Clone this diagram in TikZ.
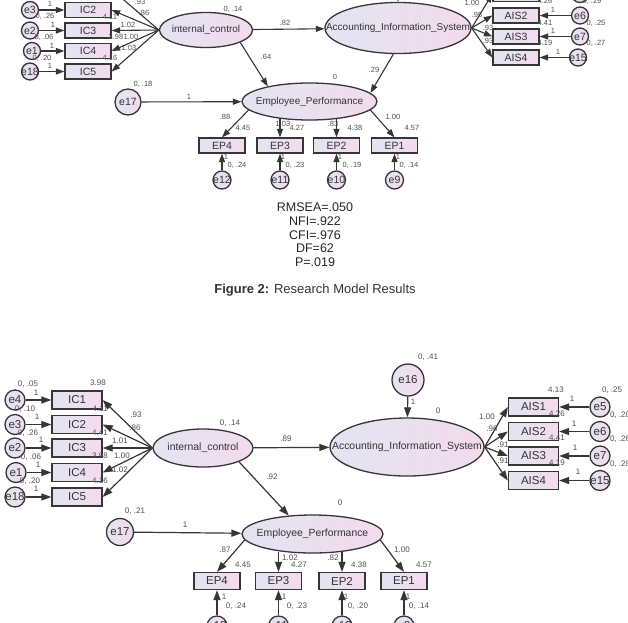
\documentclass[tikz,border=0pt]{standalone}
\usepackage{fontspec}
\setmainfont{Liberation Sans}
\usetikzlibrary{arrows.meta,shapes.geometric}
\definecolor{lineC}{HTML}{363636}
\definecolor{txtC}{HTML}{333333}
\definecolor{lblC}{HTML}{505050}
\definecolor{fillL}{HTML}{E2E4F2}
\definecolor{fillR}{HTML}{F3DBED}
\newcounter{lbn}
\newcommand{\lab}[2]{\stepcounter{lbn}\node[lbl] (lb\arabic{lbn}) at (#1) {#2};}
\newcommand{\labT}[2]{\stepcounter{lbn}\node[lblT] (lb\arabic{lbn}) at (#1) {#2};}
\tikzset{
 shp/.style={draw=lineC, line width=1.3pt, left color=fillL, right color=fillR, text=txtC, inner sep=0pt},
 obsB/.style={shp, rectangle, minimum width=50pt, minimum height=18pt, font=\fontsize{11.5}{12}\selectfont},
 obsT/.style={shp, rectangle, minimum width=46pt, minimum height=15pt, font=\fontsize{10.5}{11}\selectfont},
 lat/.style={shp, ellipse},
 err/.style={shp, circle},
 ntxt/.style={text=txtC, inner sep=0pt},
 arrB/.style={draw=lineC, line width=1.2pt, -{Triangle[length=10pt,width=7pt]}},
 arrT/.style={draw=lineC, line width=1.1pt, -{Triangle[length=8.5pt,width=6pt]}},
 lbl/.style={text=lblC, font=\fontsize{8}{9}\selectfont, inner sep=0pt},
 lblT/.style={text=lblC, font=\fontsize{7.5}{8.5}\selectfont, inner sep=0pt},
 stat/.style={text=black!85, font=\fontsize{12.5}{14}\selectfont, inner sep=0pt},
}
\begin{document}
\begin{tikzpicture}[x=1pt,y=-1pt]
\useasboundingbox (0,0) rectangle (628,622);
\fill[white] (0,0) rectangle (628,622);
\clip (0,0) rectangle (628,622);

% ================= TOP DIAGRAM =================
\foreach \n/\yy in {1/-10.5,2/10,3/30.5,4/51,5/71.5}
  \node[obsT] (tIC\n) at (88,\yy) {IC\n};
\foreach \n/\xx/\yy in {4/30/-10.5,3/30/10,2/30/30.5,1/32/51,18/30/71.5}{
  \node[err, minimum size=17pt] (te\n) at (\xx,\yy) {};
  \node[ntxt, font=\fontsize{10.5}{11}\selectfont] (te\n t) at (te\n) {e\n};}
\node[lat, minimum width=93pt, minimum height=35pt] (tICL) at (206,30) {};
\node[ntxt, font=\fontsize{10}{11}\selectfont] (tICLt) at (tICL) {internal\_control};
\node[lat, minimum width=146pt, minimum height=51pt] (tAcc) at (398,28) {};
\node[ntxt, font=\fontsize{10}{11}\selectfont] (tAcct) at (tAcc) {Accounting\_Information\_System};
\node[err, minimum size=26pt] (te16) at (398,-35) {};
\foreach \n/\yy in {1/-6,2/15.5,3/36.5,4/57.5}
  \node[obsT] (tAIS\n) at (516,\yy) {AIS\n};
\foreach \n/\xx/\yy in {5/580/-6,6/580/15.5,7/580/36.5,15/578/57.5}{
  \node[err, minimum size=17pt] (te\n) at (\xx,\yy) {};
  \node[ntxt, font=\fontsize{10.5}{11}\selectfont] (te\n t) at (te\n) {e\n};}
\node[lat, minimum width=135pt, minimum height=37pt] (tEP) at (309.5,101.5) {};
\node[ntxt, font=\fontsize{10}{11}\selectfont] (tEPt) at (tEP) {Employee\_Performance};
\node[err, minimum size=26pt] (te17) at (128,102) {};
\node[ntxt, font=\fontsize{10.5}{11}\selectfont] (te17t) at (te17) {e17};
\foreach \n/\xx/\en in {4/222/12,3/280/11,2/336.5/10,1/394.5/9}{
  \node[obsT] (tEP\n) at (\xx,145.5) {EP\n};
  \node[err, minimum size=18pt] (te\en) at (\xx,180) {};
  \node[ntxt, font=\fontsize{10.5}{11}\selectfont] (te\en t) at (te\en) {e\en};
  \draw[arrT] (te\en) -- (tEP\n);}
% top connectors
\draw[arrT] (te4) -- (tIC1);
\draw[arrT] (te3) -- (tIC2);
\draw[arrT] (te2) -- (tIC3);
\draw[arrT] (te1) -- (tIC4);
\draw[arrT] (te18) -- (tIC5);
\foreach \n in {1,...,5} \draw[arrT] (tICL.west) -- (tIC\n.east);
\draw[arrT] (tICL) -- (tAcc);
\draw[arrT] (tICL.340) -- (tEP.160);
\draw[arrT] (tAcc.260) -- (tEP.8);
\draw[arrT] (te16) -- (tAcc);
\foreach \n in {1,...,4} \draw[arrT] (tAcc.east) -- (tAIS\n.west);
\draw[arrT] (te5) -- (tAIS1);
\draw[arrT] (te6) -- (tAIS2);
\draw[arrT] (te7) -- (tAIS3);
\draw[arrT] (te15) -- (tAIS4);
\draw[arrT] (te17) -- (tEP);
\draw[arrT] (tEP.188) -- (tEP4.north);
\draw[arrT] (tEP.210 -| tEP3.north) -- (tEP3.north);
\draw[arrT] (tEP.330 -| tEP2.north) -- (tEP2.north);
\draw[arrT] (tEP.352) -- (tEP1.north);
% top labels
\labT{50,4}{1}\labT{53,25}{1}\labT{52,46}{1}\labT{50,66}{1}
\labT{45,16}{0, .26}\labT{44,37}{0, .06}\labT{42,58}{0, .20}
\labT{110,17}{4.11}\labT{116,37}{3.98}\labT{110,58}{4.16}
\labT{140,2}{.93}\labT{144,13}{.86}\labT{128,25}{1.02}\labT{131,37}{1.00}\labT{129,48}{1.03}
\labT{233,9}{0, .14}\labT{285,23}{.82}\labT{266,57}{.64}\labT{374,70}{.29}\labT{335,77}{0}
\labT{143,84}{0, .18}\labT{189,97}{1}
\labT{225,117}{.88}\labT{283,124}{1.03}\labT{333,124}{.83}\labT{393,117}{1.00}
\labT{243,128}{4.45}\labT{297,128}{4.27}\labT{355,128}{4.38}\labT{412,128}{4.57}
\labT{226,157}{1}\labT{283,157}{1}\labT{340,157}{1}\labT{398,157}{1}
\labT{237,165}{0, .24}\labT{295,165}{0, .23}\labT{352,165}{0, .19}\labT{409,165}{0, .14}
\labT{472,3}{1.00}\labT{477,15}{.95}\labT{488,28}{.93}\labT{488,41}{.93}
\labT{545,1}{4.26}\labT{545,23}{4.41}\labT{545,43}{4.19}
\labT{553,10}{1}\labT{553,31}{1}\labT{558,52}{1}
\labT{592,1}{0, .29}\labT{596,23}{0, .25}\labT{596,43}{0, .27}

% ================= FIT + CAPTION =================
\node[stat] (s1) at (315,207) {RMSEA=.050};
\node[stat] (s2) at (315,221) {NFI=.922};
\node[stat] (s3) at (315,235) {CFI=.976};
\node[stat] (s4) at (315,248) {DF=62};
\node[stat] (s5) at (315,262) {P=.019};
\node[text=black!80, font=\fontsize{13}{15}\selectfont, inner sep=0pt] (cap) at (315,290) {\textbf{Figure 2:} Research Model Results};

% ================= BOTTOM DIAGRAM =================
\foreach \n/\yy in {1/400,2/424.5,3/448,4/472.5,5/497}
  \node[obsB] (bIC\n) at (77,\yy) {IC\n};
\foreach \n/\xx/\yy in {4/15/400,3/15/424.5,2/15/448,1/16/472.5,18/15/497}{
  \node[err, minimum size=20pt] (be\n) at (\xx,\yy) {};
  \node[ntxt, font=\fontsize{11.5}{12}\selectfont] (be\n t) at (be\n) {e\n};}
\node[lat, minimum width=100pt, minimum height=38pt] (bICL) at (203,448) {};
\node[ntxt, font=\fontsize{10.4}{12}\selectfont] (bICLt) at (bICL) {internal\_control};
\node[lat, minimum width=154pt, minimum height=58pt] (bAcc) at (407,447) {};
\node[ntxt, font=\fontsize{10.4}{12}\selectfont] (bAcct) at (bAcc) {Accounting\_Information\_System};
\node[err, minimum size=32pt] (be16) at (408,380) {};
\node[ntxt, font=\fontsize{11.5}{12}\selectfont] (be16t) at (be16) {e16};
\foreach \n/\yy in {1/407,2/431.5,3/456,4/480.5}
  \node[obsB] (bAIS\n) at (533.5,\yy) {AIS\n};
\foreach \n/\yy in {5/407,6/431.5,7/456,15/480.5}{
  \node[err, minimum size=20pt] (be\n) at (600,\yy) {};
  \node[ntxt, font=\fontsize{11.5}{12}\selectfont] (be\n t) at (be\n) {e\n};}
\node[lat, minimum width=141pt, minimum height=38pt] (bEP) at (312.5,534) {};
\node[ntxt, font=\fontsize{10.4}{12}\selectfont] (bEPt) at (bEP) {Employee\_Performance};
\node[err, minimum size=27pt] (be17) at (120,532) {};
\node[ntxt, font=\fontsize{11.5}{12}\selectfont] (be17t) at (be17) {e17};
\foreach \n/\xx/\en in {4/217/12,3/278.5/11,2/342/10,1/404/9}{
  \node[obsB, minimum width=46pt, minimum height=17pt] (bEP\n) at (\xx,581) {EP\n};
  \node[err, minimum size=20pt] (be\en) at (\xx,626) {};
  \node[ntxt, font=\fontsize{11.5}{12}\selectfont] (be\en t) at (be\en) {e\en};
  \draw[arrB] (be\en) -- (bEP\n);}
% bottom connectors
\draw[arrB] (be4) -- (bIC1);
\draw[arrB] (be3) -- (bIC2);
\draw[arrB] (be2) -- (bIC3);
\draw[arrB] (be1) -- (bIC4);
\draw[arrB] (be18) -- (bIC5);
\foreach \n in {1,...,5} \draw[arrB] (bICL.west) -- (bIC\n.east);
\draw[arrB] (bICL) -- (bAcc);
\draw[arrB] (bICL.339) -- (bEP.142);
\draw[arrB] (be16) -- (bAcc);
\foreach \n in {1,...,4} \draw[arrB] (bAcc.east) -- (bAIS\n.west);
\draw[arrB] (be5) -- (bAIS1);
\draw[arrB] (be6) -- (bAIS2);
\draw[arrB] (be7) -- (bAIS3);
\draw[arrB] (be15) -- (bAIS4);
\draw[arrB] (be17) -- (bEP);
\draw[arrB] (bEP.185) -- (bEP4.north);
\draw[arrB] (bEP.211 -| bEP3.north) -- (bEP3.north);
\draw[arrB] (bEP.329 -| bEP2.north) -- (bEP2.north);
\draw[arrB] (bEP.355) -- (bEP1.north);
% bottom labels
\lab{28,384}{0, .05}\lab{36,393}{1}
\lab{25,409}{0, .10}\lab{37,417}{1}
\lab{28,433}{0, .26}\lab{41,440}{1}
\lab{31,457}{0, .06}\lab{38,465}{1}
\lab{30,481}{0, .20}\lab{36,489}{1}
\lab{98,383}{3.98}\lab{100,409}{4.11}\lab{100,433}{4.41}\lab{100,456}{3.98}\lab{100,481}{4.16}
\lab{136,415}{.93}\lab{135,428}{.86}\lab{120,441}{1.01}\lab{122,456}{1.00}\lab{120,470}{1.02}
\lab{230,423}{0, .14}\lab{286,439}{.89}\lab{272,477}{.92}
\lab{428,357}{0, .41}\lab{413,402}{1}\lab{438,411}{0}
\lab{556,390}{4.13}\lab{612,390}{0, .25}
\lab{487,417}{1.00}\lab{492,429}{.96}\lab{503,445}{.91}\lab{503,461}{.91}
\lab{557,414}{4.26}\lab{557,438}{4.41}\lab{557,463}{4.19}
\lab{572,399}{1}\lab{574,424}{1}\lab{575,448}{1}\lab{578,472}{1}
\lab{620,415}{0, .28}\lab{620,439}{0, .26}\lab{620,464}{0, .28}
\lab{135,511}{0, .21}\lab{185,525}{1}\lab{340,503}{0}
\lab{225,550}{.87}\lab{243,565}{4.45}\lab{290,558}{1.02}\lab{299,565}{4.27}
\lab{333,558}{.82}\lab{359,565}{4.38}\lab{402,550}{1.00}\lab{424,565}{4.57}
\lab{224,597}{1}\lab{236,606}{0, .24}\lab{284,597}{1}\lab{297,606}{0, .23}
\lab{346,597}{1}\lab{358,606}{0, .20}\lab{408,597}{1}\lab{419,606}{0, .14}
\end{tikzpicture}
\end{document}
